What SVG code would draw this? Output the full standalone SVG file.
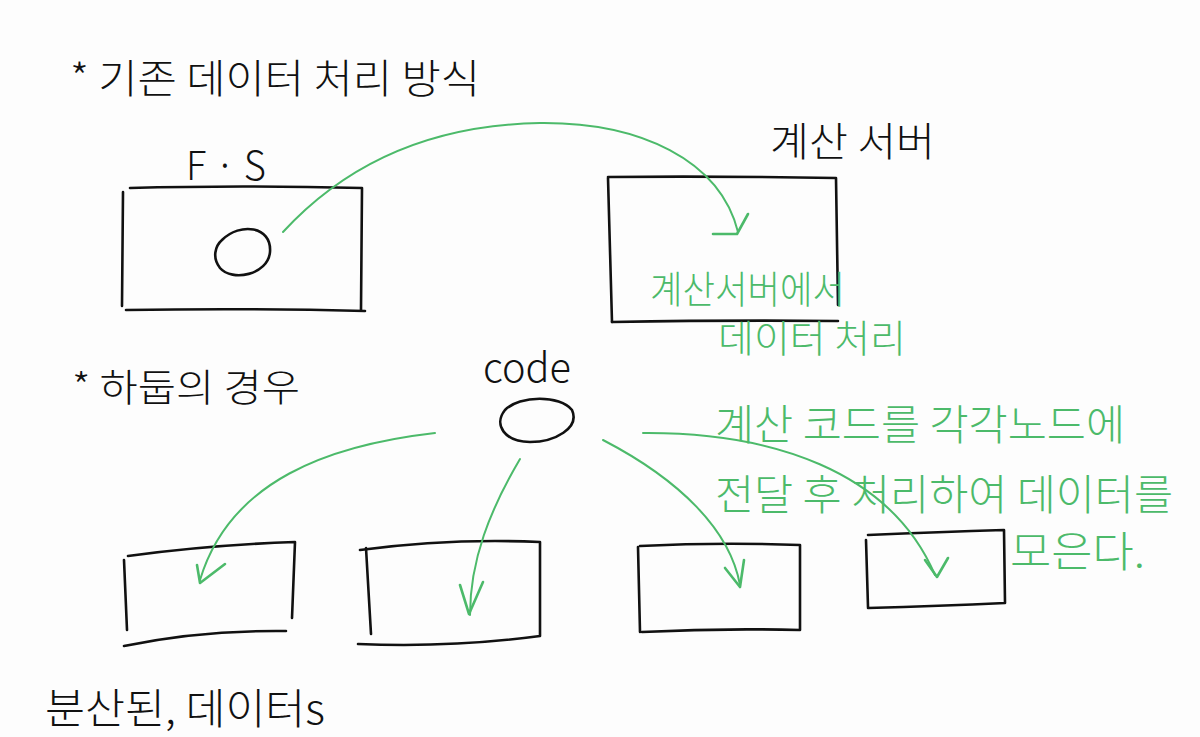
<svg xmlns="http://www.w3.org/2000/svg" width="1200" height="737" viewBox="0 0 1200 737">
<defs>
<style>
.ink{fill:none;stroke:#111;stroke-width:2.6;stroke-linecap:round;stroke-linejoin:round}
.g{fill:none;stroke:#4cba6a;stroke-width:2;stroke-linecap:round;stroke-linejoin:round}
.gh{fill:none;stroke:#4cba6a;stroke-width:2.6;stroke-linecap:round;stroke-linejoin:round}
.t{font-family:"Noto Sans CJK KR","Noto Sans",sans-serif;font-weight:300;fill:#111}
.tg{font-family:"Noto Sans CJK KR","Noto Sans",sans-serif;font-weight:300;fill:#4cba6a}
</style>
</defs>
<rect width="1200" height="737" fill="#fdfdfd"/>

<g id="title1"><text class="t" x="70" y="93" font-size="40" textLength="410" lengthAdjust="spacingAndGlyphs">* 기존 데이터 처리 방식</text></g>

<g id="fs-node">
<text class="t" x="186" y="180" font-size="40" textLength="80" lengthAdjust="spacingAndGlyphs">F · S</text>
<path class="ink" d="M123 192 L122 306"/>
<path class="ink" d="M130 188 Q240 185 362 188 L361 310"/>
<path class="ink" d="M126 310 Q250 308 365 311"/>
<path class="ink" d="M222 240 C240 222 272 226 270 252 C268 275 232 282 220 268 C212 258 215 246 222 240"/>
</g>

<g id="server-node">
<text class="t" x="770" y="156" font-size="40" textLength="165" lengthAdjust="spacingAndGlyphs">계산 서버</text>
<path class="ink" d="M608 178 L612 322"/>
<path class="ink" d="M608 177 Q720 176 836 178 L838 305"/>
<path class="ink" d="M612 322 Q730 320 838 321"/>
<text class="tg" x="650" y="303" font-size="38" textLength="195" lengthAdjust="spacingAndGlyphs">계산서버에서</text>
<text class="tg" x="718" y="352" font-size="38" textLength="188" lengthAdjust="spacingAndGlyphs">데이터 처리</text>
</g>

<g id="title2"><text class="t" x="72" y="401" font-size="38" textLength="228" lengthAdjust="spacingAndGlyphs">* 하둡의 경우</text></g>

<g id="code-node">
<text class="t" x="483" y="382" font-size="40" textLength="88" lengthAdjust="spacingAndGlyphs">code</text>
<path class="ink" d="M505 410 C520 395 560 395 572 410 C580 428 555 442 530 442 C505 442 493 425 505 410"/>
</g>

<g id="data1"><path class="ink" d="M124 560 L127 630"/><path class="ink" d="M128 556 Q210 545 295 542 L292 618"/><path class="ink" d="M124 646 Q200 630 286 631"/></g>
<g id="data2"><path class="ink" d="M366 548 L371 634"/><path class="ink" d="M360 550 Q450 538 540 542 L540 636 Q450 648 358 644"/></g>
<g id="data3"><path class="ink" d="M638 547 L640 632"/><path class="ink" d="M640 546 Q720 542 800 545 L800 630 Q720 628 642 632"/></g>
<g id="data4"><path class="ink" d="M866 540 L868 607"/><path class="ink" d="M868 535 Q940 532 1004 530 L1005 603 Q940 606 868 608"/></g>

<g id="labels">
<text class="tg" x="715" y="440" font-size="42" textLength="410" lengthAdjust="spacingAndGlyphs">계산 코드를 각각노드에</text>
<text class="tg" x="715" y="510" font-size="42" textLength="458" lengthAdjust="spacingAndGlyphs">전달 후 처리하여 데이터를</text>
<text class="tg" x="1010" y="567" font-size="42" textLength="135" lengthAdjust="spacingAndGlyphs">모은다.</text>
<text class="t" x="45" y="724" font-size="42" textLength="280" lengthAdjust="spacingAndGlyphs">분산된, 데이터s</text>
</g>

<g id="connectors">
<path class="g" d="M283 232 C340 170 420 125 540 123 C640 122 720 160 738 232"/>
<path class="gh" d="M713 234 L737 234 L748 214"/>
<path class="g" d="M435 433 C330 445 230 480 200 580"/>
<path class="gh" d="M197 565 L200 583 L225 564"/>
<path class="g" d="M520 459 C490 510 470 560 470 615"/>
<path class="gh" d="M460 585 L469 614 L483 582"/>
<path class="g" d="M603 440 C680 480 730 530 740 585"/>
<path class="gh" d="M725 568 L740 587 L744 560"/>
<path class="g" d="M643 433 C770 432 890 470 935 575"/>
<path class="gh" d="M925 560 L937 577 L948 558"/>
</g>
</svg>
